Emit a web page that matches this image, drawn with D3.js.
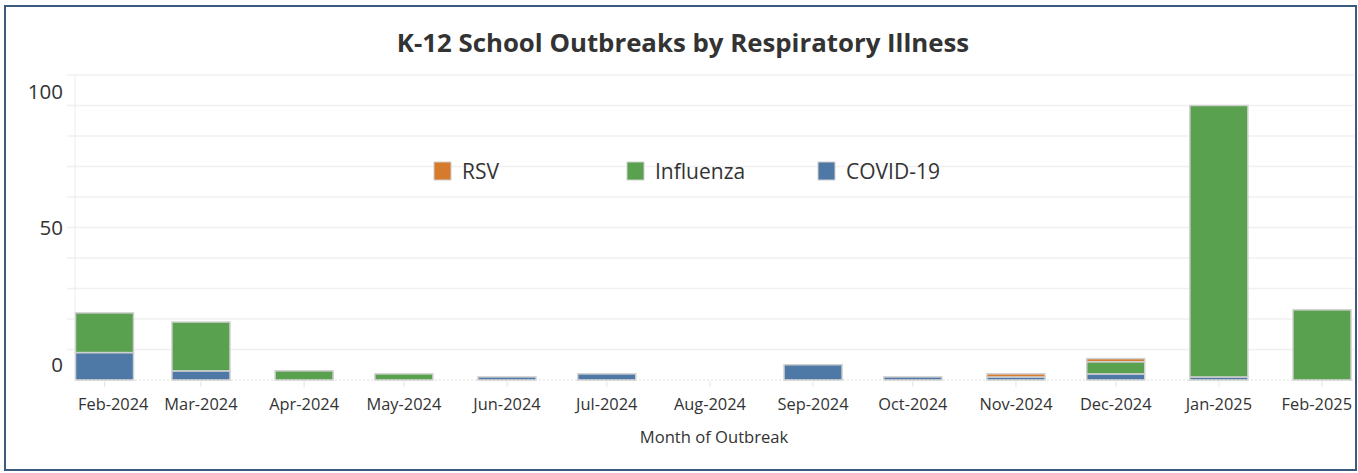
<!DOCTYPE html>
<html>
<head>
<meta charset="utf-8">
<script src="https://cdn.jsdelivr.net/npm/d3@7"></script>
<style>
  body { margin: 0; background: #fff; }
  text { font-family: "Open Sans", sans-serif; fill: #333; }
</style>
</head>
<body>
<script>
// months of outbreak and counts per illness
const months = ["2024-02", "2024-03", "2024-04", "2024-05", "2024-06", "2024-07", "2024-08",
                "2024-09", "2024-10", "2024-11", "2024-12", "2025-01", "2025-02"];
const covid = [9, 3, 0, 0, 1, 2, 0, 5, 1, 1, 2, 1, 0];
const influenza = [13, 16, 3, 2, 0, 0, 0, 0, 0, 0, 4, 89, 23];
const rsv = [0, 0, 0, 0, 0, 0, 0, 0, 0, 1, 1, 0, 0];
const yTicks = [0, 50, 100];
const seriesNames = ["COVID-19", "Influenza", "RSV"];
const legendOrder = ["RSV", "Influenza", "COVID-19"];

const width = 1358, height = 473;
const colors = { "COVID-19": "#4e79a7", "Influenza": "#59a14f", "RSV": "#d67a2c" };

const svg = d3.select("body").append("svg")
    .attr("width", width)
    .attr("height", height);

// outer frame
svg.append("rect")
    .attr("x", 5).attr("y", 6)
    .attr("width", 1351).attr("height", 464)
    .attr("fill", "none")
    .attr("stroke", "#3b5a7e")
    .attr("stroke-width", 2);

svg.append("text")
    .attr("x", 683).attr("y", 52)
    .attr("text-anchor", "middle")
    .style("font-size", "25.8px")
    .style("font-weight", "bold")
    .text("K-12 School Outbreaks by Respiratory Illness");

const parse = d3.utcParse("%Y-%m");
const dates = months.map(parse);

const plotLeft = 75, plotRight = 1354, plotTop = 75, plotBottom = 380;

const x = d3.scaleUtc()
    .domain([dates[0], dates[dates.length - 1]])
    .range([104.5, 1322]);

const y = d3.scaleLinear()
    .domain([0, 100])
    .range([plotBottom, plotTop]);

// gridlines every 10
svg.append("g")
    .selectAll("line")
    .data(d3.range(10, 101, 10))
    .enter().append("line")
    .attr("x1", 67).attr("x2", plotRight)
    .attr("y1", d => y(d)).attr("y2", d => y(d))
    .attr("stroke", "#f0f0f0")
    .attr("stroke-width", 1.5);

svg.append("line")
    .attr("x1", plotLeft).attr("x2", plotLeft)
    .attr("y1", plotTop).attr("y2", plotBottom)
    .attr("stroke", "#ececec");

// y labels (Tableau keeps the end labels inside the pane)
svg.append("g")
    .selectAll("text")
    .data(yTicks)
    .enter().append("text")
    .attr("x", 63)
    .attr("y", d => Math.min(Math.max(y(d), plotTop + 17), plotBottom - 15))
    .attr("dy", "0.35em")
    .attr("text-anchor", "end")
    .style("font-size", "20.5px")
    .text(d => d);

// stacked bars
const table = months.map((m, i) => ({
    date: dates[i], "COVID-19": covid[i], "Influenza": influenza[i], "RSV": rsv[i]
}));
const stacked = d3.stack().keys(seriesNames)(table);
const barW = 58;

svg.append("g")
    .selectAll("g")
    .data(stacked)
    .enter().append("g")
    .attr("fill", d => colors[d.key])
    .selectAll("rect")
    .data(d => d.filter(p => p[1] - p[0] > 0))
    .enter().append("rect")
    .attr("x", d => x(d.data.date) - barW / 2)
    .attr("width", barW)
    .attr("y", d => y(d[1]))
    .attr("height", d => y(d[0]) - y(d[1]))
    .attr("stroke", "#cfcfcf")
    .attr("stroke-width", 1.5);

// baseline and ticks
svg.append("line")
    .attr("x1", plotLeft).attr("x2", plotRight)
    .attr("y1", plotBottom).attr("y2", plotBottom)
    .attr("stroke", "#dcdcdc")
    .attr("stroke-dasharray", "2,2");

const fmt = d3.utcFormat("%b-%Y");
const xg = svg.append("g");
xg.selectAll("line")
    .data(dates)
    .enter().append("line")
    .attr("x1", d => x(d)).attr("x2", d => x(d))
    .attr("y1", plotBottom + 1).attr("y2", plotBottom + 7)
    .attr("stroke", "#e4e4e4");

xg.selectAll("text")
    .data(dates)
    .enter().append("text")
    .attr("y", 410)
    .style("font-size", "16.4px")
    .attr("text-anchor", "middle")
    .text(d => fmt(d))
    .attr("x", function(d) {
        const w = this.getComputedTextLength();
        return Math.min(Math.max(x(d), 78 + w / 2), 1352 - w / 2);
    });

svg.append("text")
    .attr("x", 714).attr("y", 443)
    .attr("text-anchor", "middle")
    .style("font-size", "16.6px")
    .text("Month of Outbreak");

// legend
const legendX = [434, 627, 818];
const lg = svg.append("g")
    .selectAll("g")
    .data(legendOrder)
    .enter().append("g")
    .attr("transform", (d, i) => `translate(${legendX[i]},162)`);

lg.append("rect")
    .attr("width", 17).attr("height", 18)
    .attr("fill", d => colors[d])
    .attr("stroke", "#d0d0d0");

lg.append("text")
    .attr("x", 28).attr("y", 9.5)
    .attr("dy", "0.35em")
    .style("font-size", "21px")
    .text(d => d);
</script>
</body>
</html>
